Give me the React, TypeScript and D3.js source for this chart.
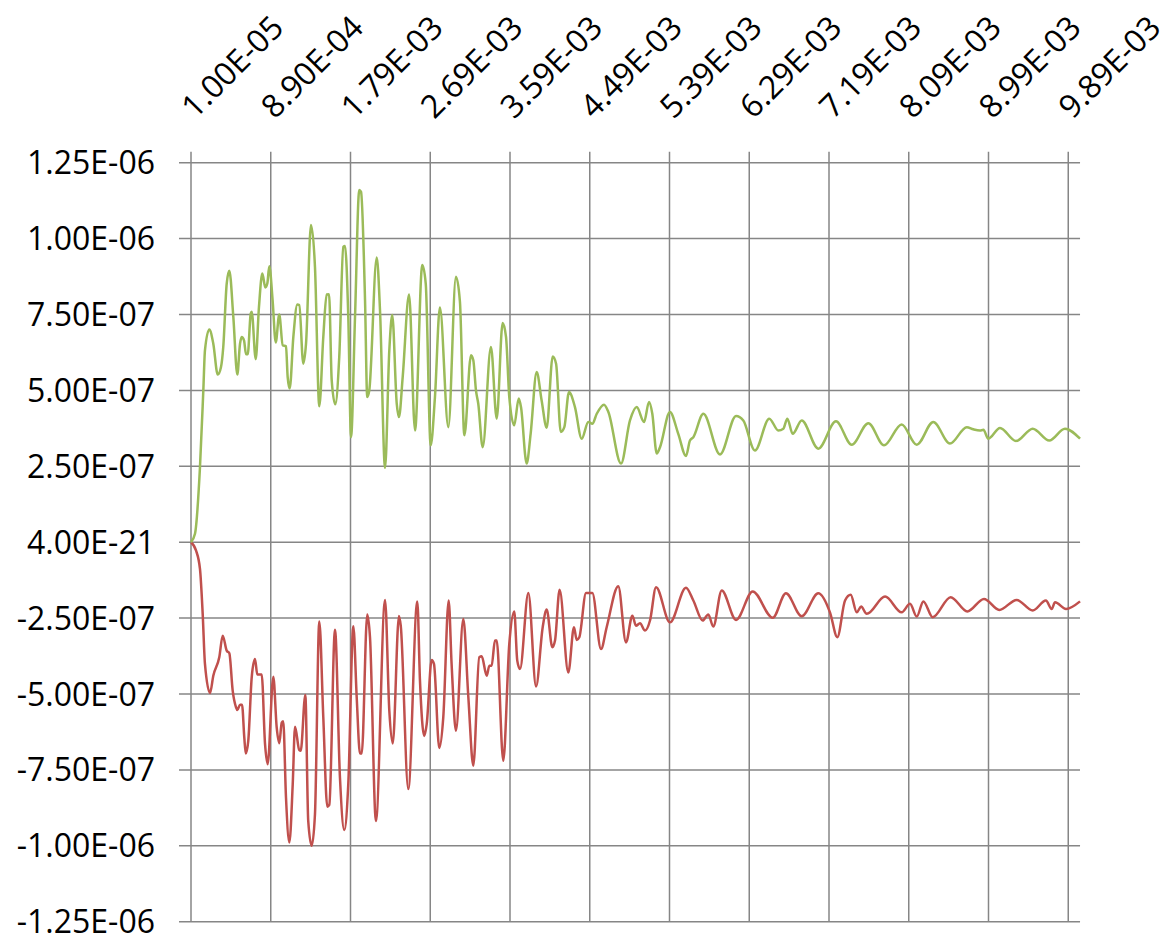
import { useEffect, useRef } from 'react';
import * as d3 from 'd3';

// time in microseconds, amplitude in units of 1e-9
const xTickLabels = [
    '1.00E-05', '8.90E-04', '1.79E-03', '2.69E-03', '3.59E-03', '4.49E-03',
    '5.39E-03', '6.29E-03', '7.19E-03', '8.09E-03', '8.99E-03', '9.89E-03',
];
const yTickValues = [1250, 1000, 750, 500, 250, 0, -250, -500, -750, -1000, -1250];
const yTickLabels = [
    '1.25E-06', '1.00E-06', '7.50E-07', '5.00E-07', '2.50E-07', '4.00E-21',
    '-2.50E-07', '-5.00E-07', '-7.50E-07', '-1.00E-06', '-1.25E-06',
];

const greenSeries: [number, number][] = [
    [10, 0], [54, 28], [109, 247], [146, 500], [164, 632], [212, 701], [256, 654], [305, 552],
    [341, 577], [366, 643], [404, 852], [433, 894], [477, 742], [521, 552], [551, 654], [569, 676],
    [595, 665], [617, 619], [636, 619], [669, 753], [680, 759], [724, 603], [760, 775], [797, 885],
    [830, 839], [852, 852], [874, 909], [911, 797], [946, 658], [986, 750], [1025, 649], [1062, 645],
    [1081, 544], [1104, 506], [1145, 676], [1190, 783], [1212, 781], [1257, 588], [1288, 654],
    [1344, 1045], [1389, 907], [1438, 448], [1483, 676], [1521, 816], [1548, 817], [1578, 533],
    [1618, 454], [1663, 610], [1709, 973], [1728, 976], [1765, 742], [1796, 346], [1841, 742],
    [1889, 1160], [1909, 1154], [1954, 797], [1979, 478], [2002, 500], [2086, 938], [2123, 764],
    [2180, 245], [2228, 632], [2261, 748], [2312, 456], [2337, 412], [2379, 544], [2451, 816],
    [2518, 368], [2600, 913], [2639, 852], [2695, 319], [2743, 478], [2799, 773], [2894, 379],
    [2980, 874], [3025, 792], [3075, 352], [3150, 616], [3176, 599], [3206, 500], [3232, 456],
    [3282, 313], [3375, 643], [3440, 407], [3507, 722], [3545, 676], [3582, 478], [3638, 385],
    [3688, 473], [3714, 445], [3778, 259], [3823, 357], [3891, 561], [3947, 467], [4004, 377],
    [4072, 612], [4110, 588], [4163, 363], [4203, 379], [4256, 495], [4323, 445], [4399, 341],
    [4474, 396], [4519, 390], [4569, 423], [4651, 453], [4700, 429], [4843, 259], [4944, 401],
    [5020, 445], [5103, 396], [5159, 462], [5196, 423], [5246, 292], [5283, 313], [5395, 429],
    [5489, 357], [5576, 284], [5621, 335], [5659, 346], [5772, 423], [5960, 289], [6141, 416],
    [6223, 401], [6354, 302], [6516, 407], [6618, 368], [6675, 374], [6720, 407], [6780, 357],
    [6882, 401], [7069, 308], [7269, 398], [7446, 321], [7634, 392], [7811, 319], [8010, 388],
    [8180, 321], [8367, 396], [8555, 325], [8745, 379], [8818, 372], [8894, 368], [8932, 370],
    [8988, 341], [9120, 376], [9300, 333], [9489, 374], [9676, 335], [9853, 374], [10023, 341],
];

const redSeries: [number, number][] = [
    [10, 0], [65, -27], [109, -88], [139, -236], [164, -401], [220, -497], [256, -440], [322, -379],
    [360, -308], [404, -357], [433, -366], [470, -489], [507, -544], [521, -553], [551, -535],
    [573, -535], [598, -643], [614, -696], [642, -654], [680, -445], [716, -385], [742, -436],
    [790, -436], [827, -665], [856, -731], [919, -443], [957, -610], [986, -662], [1014, -594],
    [1031, -590], [1062, -841], [1100, -989], [1138, -797], [1164, -608], [1212, -685], [1228, -687],
    [1280, -503], [1313, -918], [1352, -1000], [1389, -896], [1438, -261], [1483, -577], [1528, -871],
    [1551, -865], [1615, -288], [1671, -775], [1720, -948], [1765, -797], [1822, -277], [1860, -511],
    [1897, -696], [1917, -696], [1979, -238], [2010, -313], [2077, -918], [2180, -190], [2228, -555],
    [2267, -663], [2337, -243], [2357, -275], [2442, -813], [2544, -195], [2574, -456], [2622, -638],
    [2650, -599], [2706, -388], [2732, -401], [2792, -678], [2837, -577], [2898, -192], [2931, -401],
    [2980, -621], [3063, -253], [3120, -511], [3176, -736], [3243, -379], [3271, -376], [3327, -440],
    [3357, -407], [3383, -407], [3420, -324], [3440, -324], [3514, -720], [3582, -335], [3638, -228],
    [3672, -390], [3703, -418], [3797, -167], [3884, -475], [3959, -280], [4004, -222], [4068, -346],
    [4098, -324], [4150, -157], [4248, -429], [4312, -280], [4343, -322], [4372, -313], [4448, -167],
    [4519, -167], [4617, -352], [4681, -280], [4812, -145], [4899, -330], [4971, -242], [5012, -275],
    [5057, -267], [5114, -291], [5170, -258], [5238, -148], [5395, -264], [5576, -150], [5659, -192],
    [5764, -258], [5828, -238], [5884, -278], [5979, -159], [6141, -256], [6329, -162], [6555, -249],
    [6704, -168], [6882, -244], [7069, -168], [7201, -231], [7284, -313], [7371, -192], [7435, -173],
    [7503, -231], [7552, -212], [7616, -236], [7823, -179], [8010, -231], [8104, -203], [8180, -245],
    [8255, -195], [8360, -247], [8563, -181], [8751, -228], [8939, -187], [9112, -223], [9308, -190],
    [9489, -225], [9638, -192], [9703, -220], [9741, -198], [9865, -220], [10023, -195],
];

export default function App() {
    const svgRef = useRef<SVGSVGElement>(null);

    useEffect(() => {
        if (!svgRef.current) return;
        const svg = d3.select(svgRef.current);
        svg.selectAll('*').remove();

        const left = 191, top = 162.7, bottom = 921.7;
        const step = 79.75; // category-axis spacing between labelled ticks
        const grid = '#868686';
        const font = "'Open Sans', 'Liberation Sans', sans-serif";

        // category axis: labelled ticks are evenly spaced although their values are not
        const xTicks = xTickLabels.map(s => +s * 1e6);
        const x = d3.scaleLinear()
            .domain(xTicks)
            .range(xTicks.map((_, i) => left + i * step));
        const right = x(greenSeries[greenSeries.length - 1][0]);
        const y = d3.scaleLinear().domain([-1250, 1250]).range([bottom, top]);

        // Horizontal gridlines + y tick marks
        for (const v of yTickValues) {
            svg.append('line')
                .attr('x1', left - 12).attr('x2', right)
                .attr('y1', y(v)).attr('y2', y(v))
                .attr('stroke', grid).attr('stroke-width', 1.5);
        }

        // Vertical gridlines + top tick marks
        for (const t of xTicks) {
            svg.append('line')
                .attr('x1', x(t)).attr('x2', x(t))
                .attr('y1', top - 11).attr('y2', bottom)
                .attr('stroke', grid).attr('stroke-width', 1.5);
        }

        // Y tick labels
        svg.append('g')
            .selectAll('text')
            .data(yTickValues)
            .join('text')
            .attr('x', 155)
            .attr('y', d => y(d))
            .attr('dy', '0.36em')
            .attr('text-anchor', 'end')
            .attr('font-family', font)
            .attr('font-size', 32)
            .attr('fill', '#000')
            .text((_, i) => yTickLabels[i]);

        // X tick labels (rotated, above the plot)
        svg.append('g')
            .selectAll('text')
            .data(xTicks)
            .join('text')
            .attr('transform', d => `translate(${x(d) + 4},120) rotate(-45)`)
            .attr('text-anchor', 'start')
            .attr('font-family', font)
            .attr('font-size', 32)
            .attr('fill', '#000')
            .text((_, i) => xTickLabels[i]);

        const line = d3.line<[number, number]>()
            .x(d => x(d[0]))
            .y(d => y(d[1]))
            .curve(d3.curveMonotoneX);

        svg.append('path')
            .datum(redSeries)
            .attr('d', line)
            .attr('fill', 'none')
            .attr('stroke', '#C0504D')
            .attr('stroke-width', 2.5)
            .attr('stroke-linejoin', 'round');

        svg.append('path')
            .datum(greenSeries)
            .attr('d', line)
            .attr('fill', 'none')
            .attr('stroke', '#9BBB59')
            .attr('stroke-width', 2.5)
            .attr('stroke-linejoin', 'round');
    }, []);

    return (
        <svg
            ref={svgRef}
            width={1174}
            height={935}
            style={{ position: 'absolute', left: 0, top: 0, background: '#fff' }}
        />
    );
}
